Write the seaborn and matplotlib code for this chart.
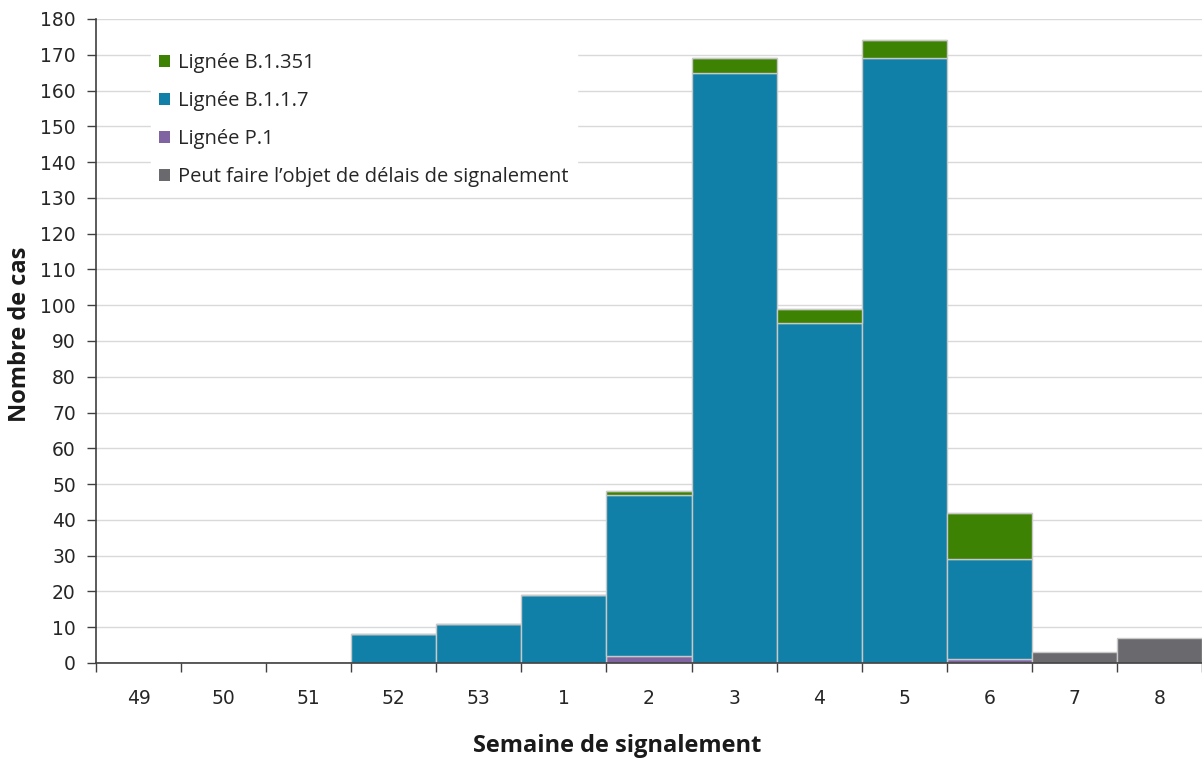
import numpy as np
import pandas as pd
import matplotlib
matplotlib.use("Agg")
import matplotlib.pyplot as plt
from matplotlib.patches import Patch
import seaborn as sns

sns.set_theme(style="white")
plt.rcParams["font.family"] = ["DejaVu Sans"]

# data
weeks = ["49", "50", "51", "52", "53", "1", "2", "3", "4", "5", "6", "7", "8"]
p1 = [0, 0, 0, 0, 0, 0, 2, 0, 0, 0, 1, 0, 0]
b117 = [0, 0, 0, 8, 11, 19, 45, 165, 95, 169, 28, 0, 0]
b1351 = [0, 0, 0, 0, 0, 0, 1, 4, 4, 5, 13, 0, 0]
delay = [0, 0, 0, 0, 0, 0, 0, 0, 0, 0, 0, 3, 7]

labels = ["Lignée B.1.351", "Lignée B.1.1.7", "Lignée P.1",
          "Peut faire l\u2019objet de délais de signalement"]
colors = {"Lignée B.1.351": "#3e8203", "Lignée B.1.1.7": "#1180a8",
          "Lignée P.1": "#8064a2",
          "Peut faire l\u2019objet de délais de signalement": "#6a6a6e"}

df = pd.DataFrame({"Semaine": weeks, "P1": p1, "B117": b117,
                   "B1351": b1351, "Delai": delay})

fig = plt.figure(figsize=(12.02, 7.62), dpi=100)
ax = fig.add_axes([96 / 1202, 1 - 663 / 762, 1 - 96 / 1202, (663 - 19) / 762])

edge = dict(edgecolor="#c8c8c8", linewidth=1.0)
bottom = np.zeros(len(weeks))
for col, lab in [("P1", "Lignée P.1"), ("B117", "Lignée B.1.1.7"),
                 ("B1351", "Lignée B.1.351"),
                 ("Delai", "Peut faire l\u2019objet de délais de signalement")]:
    sns.barplot(data=df, x="Semaine", y=col, order=weeks, color=colors[lab],
                width=1.0, bottom=bottom, saturation=1, ax=ax, zorder=2, **edge)
    bottom = bottom + df[col].to_numpy()

ax.set_xlim(-0.5, len(weeks) - 0.5)
ax.set_ylim(0, 180)
ax.set_yticks(np.arange(0, 181, 10))
ax.yaxis.grid(True, color="#d9d9d9", linewidth=1.0, zorder=0)
ax.set_axisbelow(True)

ax.set_xticks(np.arange(-0.5, len(weeks), 1.0))
ax.set_xticklabels([])
ax.set_xticks(np.arange(len(weeks)), minor=True)
ax.set_xticklabels(weeks, minor=True)
ax.tick_params(axis="x", which="major", direction="out", length=6.5,
               color="#404040", width=1, bottom=True)
ax.tick_params(axis="x", which="minor", length=0, pad=19, labelsize=13.5,
               labelcolor="#262626", bottom=True)
ax.tick_params(axis="y", direction="out", length=6.5, color="#404040",
               width=1, pad=8, labelsize=13.5, labelcolor="#262626", left=True)

for s in ["top", "right"]:
    ax.spines[s].set_visible(False)
for s in ["left", "bottom"]:
    ax.spines[s].set_color("#404040")
    ax.spines[s].set_linewidth(1.2)

ax.set_xlabel("")
ax.set_ylabel("")
fig.text(20 / 1202, 1 - 334 / 762, "Nombre de cas", ha="center", va="center",
         rotation=90, fontsize=17, fontweight="bold",
         family=["Open Sans", "DejaVu Sans"], color="#1a1a1a")
fig.text(617 / 1202, 1 - 746 / 762, "Semaine de signalement", ha="center",
         va="center", fontsize=17, fontweight="bold",
         family=["Open Sans", "DejaVu Sans"], color="#1a1a1a")

handles = [Patch(facecolor=colors[l], edgecolor="none", label=l) for l in labels]
leg = ax.legend(handles=handles, loc="upper left", bbox_to_anchor=(0.05, 0.96),
                borderaxespad=0, frameon=True, fancybox=False, framealpha=1,
                edgecolor="white", handlelength=0.55, handleheight=0.55,
                handletextpad=0.4, labelspacing=0.9,
                prop={"family": ["Open Sans", "DejaVu Sans"], "size": 14.5})
leg.get_frame().set_facecolor("white")

fig.savefig("out.png", dpi=100)
